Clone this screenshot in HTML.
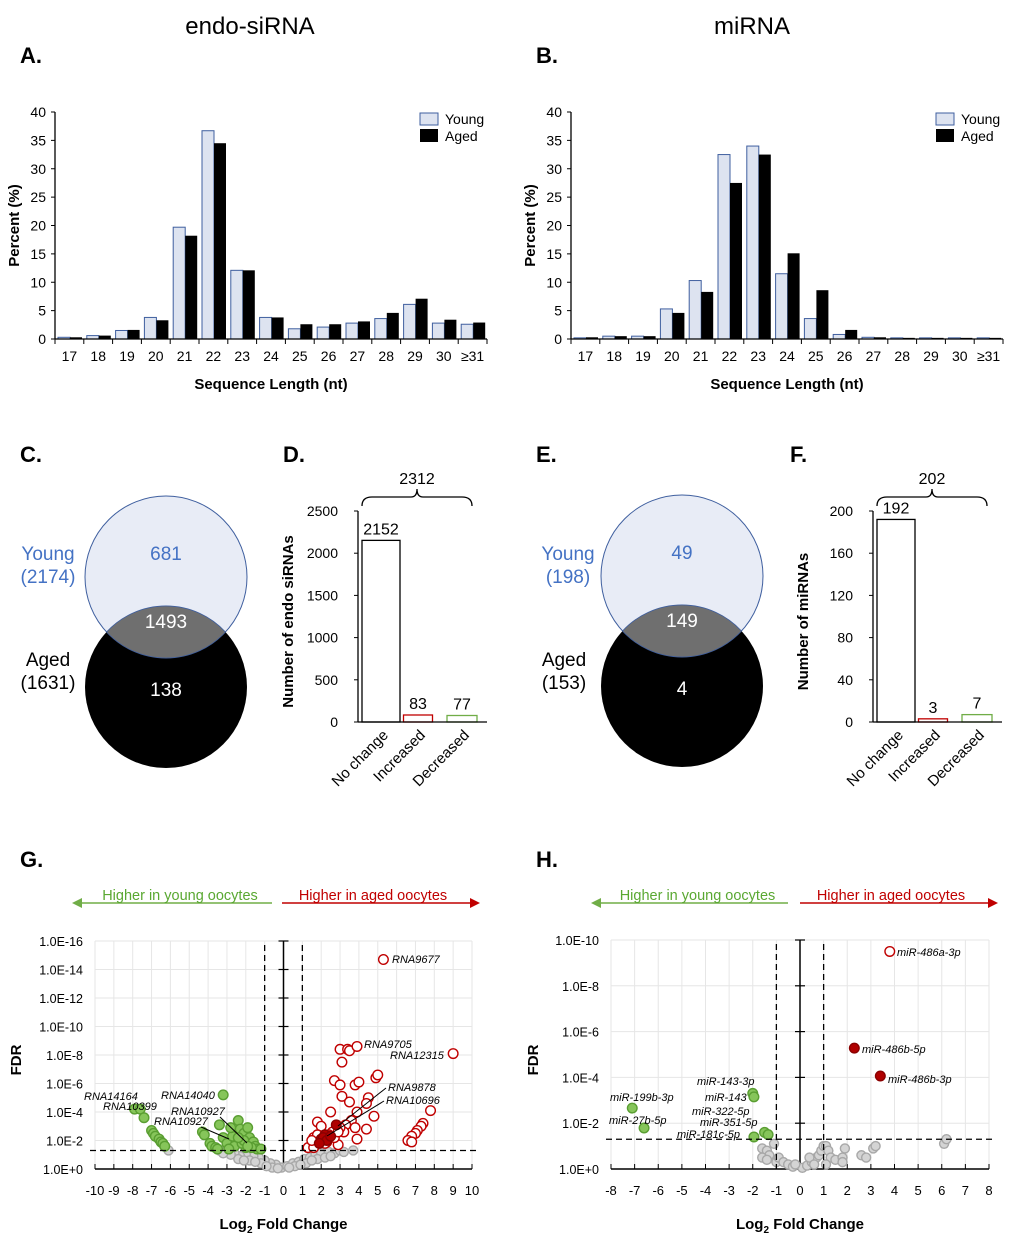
<!DOCTYPE html>
<html><head><meta charset="utf-8"><style>
body{margin:0;background:#fff}
svg{display:block;font-family:"Liberation Sans",Arial,sans-serif}
</style></head><body>
<svg id="s" width="1020" height="1243" viewBox="0 0 1020 1243">
<text x="250" y="34" font-size="24" text-anchor="middle">endo-siRNA</text>
<text x="752" y="34" font-size="24" text-anchor="middle">miRNA</text>
<g font-size="22" font-weight="bold">
<text x="20" y="63">A.</text>
<text x="536" y="63">B.</text>
<text x="20" y="462">C.</text>
<text x="283" y="462">D.</text>
<text x="536" y="462">E.</text>
<text x="790" y="462">F.</text>
<text x="20" y="867">G.</text>
<text x="536" y="867">H.</text>
</g>
<!-- Venn C -->
<g>
<circle cx="166" cy="577" r="81" fill="#e8ecf6" stroke="#3f5f9f" stroke-width="1"/>
<circle cx="166" cy="687" r="81" fill="#000"/>
<path d="M 106.5 632 A 81 81 0 0 1 225.5 632 A 81 81 0 0 1 106.5 632 Z" fill="#6f6f6f" stroke="#3f5f9f" stroke-width="0.8"/>
<text x="166" y="560" font-size="19" fill="#4472c4" text-anchor="middle">681</text>
<text x="166" y="628" font-size="19" fill="#fff" text-anchor="middle">1493</text>
<text x="166" y="696" font-size="19" fill="#fff" text-anchor="middle">138</text>
<text x="48" y="560" font-size="19" fill="#4472c4" text-anchor="middle">Young</text>
<text x="48" y="583" font-size="19" fill="#4472c4" text-anchor="middle">(2174)</text>
<text x="48" y="666" font-size="19" text-anchor="middle">Aged</text>
<text x="48" y="689" font-size="19" text-anchor="middle">(1631)</text>
</g>
<g>
<circle cx="682" cy="576" r="81" fill="#e8ecf6" stroke="#3f5f9f" stroke-width="1"/>
<circle cx="682" cy="686" r="81" fill="#000"/>
<path d="M 622.5 631 A 81 81 0 0 1 741.5 631 A 81 81 0 0 1 622.5 631 Z" fill="#6f6f6f" stroke="#3f5f9f" stroke-width="0.8"/>
<text x="682" y="559" font-size="19" fill="#4472c4" text-anchor="middle">49</text>
<text x="682" y="627" font-size="19" fill="#fff" text-anchor="middle">149</text>
<text x="682" y="695" font-size="19" fill="#fff" text-anchor="middle">4</text>
<text x="568" y="560" font-size="19" fill="#4472c4" text-anchor="middle">Young</text>
<text x="568" y="583" font-size="19" fill="#4472c4" text-anchor="middle">(198)</text>
<text x="564" y="666" font-size="19" text-anchor="middle">Aged</text>
<text x="564" y="689" font-size="19" text-anchor="middle">(153)</text>
</g>
</svg>
<script>
const S=document.getElementById('s');const NS='http://www.w3.org/2000/svg';
function mk(tag,attrs,parent,txt){const e=document.createElementNS(NS,tag);for(const k in attrs)e.setAttribute(k,attrs[k]);if(txt!==undefined)e.textContent=txt;(parent||S).appendChild(e);return e;}

// ---- Panels A/B data ----
const lenCats=['17','18','19','20','21','22','23','24','25','26','27','28','29','30','≥31'];
const sirnaYoung=[0.3,0.6,1.5,3.8,19.7,36.7,12.1,3.8,1.8,2.1,2.8,3.6,6.1,2.8,2.6];
const sirnaAged=[0.3,0.6,1.6,3.3,18.2,34.5,12.1,3.8,2.6,2.6,3.1,4.6,7.1,3.4,2.9];
const mirnaYoung=[0.2,0.5,0.5,5.3,10.3,32.5,34.0,11.5,3.6,0.8,0.3,0.2,0.2,0.2,0.2];
const mirnaAged=[0.3,0.5,0.5,4.6,8.3,27.5,32.5,15.1,8.6,1.6,0.3,0.2,0.2,0.2,0.2];
const pctTicks=[0,5,10,15,20,25,30,35,40];

function lenChart(ox,young,aged,name){
  const g=mk('g',{});
  
  
  const x0=ox,x1=ox+432,y0=339,yTop=112,bw=(x1-x0)/lenCats.length;
  const ys=v=>y0-(v/40)*(y0-yTop);
  young.forEach((v,i)=>{const r=mk('rect',{x:x0+i*bw+3,y:ys(v),width:12,height:y0-ys(v),fill:'#dde3f0',stroke:'#3f5f9f','stroke-width':1},g);
    });
  aged.forEach((v,i)=>{const r=mk('rect',{x:x0+i*bw+15,y:ys(v),width:12,height:y0-ys(v),fill:'#000'},g);
    });
  mk('line',{x1:x0,y1:y0,x2:x1,y2:y0,stroke:'#000','stroke-width':1.3},g);
  mk('line',{x1:x0,y1:y0,x2:x0,y2:yTop,stroke:'#000','stroke-width':1.3},g);
  pctTicks.forEach(t=>{mk('line',{x1:x0-4,y1:ys(t),x2:x0,y2:ys(t),stroke:'#000'},g);
    mk('text',{x:x0-9,y:ys(t)+5,'font-size':14,'text-anchor':'end'},g,t);});
  lenCats.forEach((c,i)=>{mk('line',{x1:x0+i*bw,y1:y0,x2:x0+i*bw,y2:y0+5,stroke:'#000'},g);
    mk('text',{x:x0+(i+0.5)*bw,y:y0+22,'font-size':14,'text-anchor':'middle'},g,c);});
  mk('line',{x1:x1,y1:y0,x2:x1,y2:y0+5,stroke:'#000'},g);
  mk('text',{x:(x0+x1)/2,y:389,'font-size':15,'font-weight':'bold','text-anchor':'middle'},g,'Sequence Length (nt)');
  mk('text',{transform:`translate(${x0-36},${(y0+yTop)/2}) rotate(-90)`,'font-size':15,'font-weight':'bold','text-anchor':'middle'},g,'Percent (%)');
  mk('rect',{x:x1-67,y:113,width:18,height:12,fill:'#dde3f0',stroke:'#3f5f9f'},g);
  mk('rect',{x:x1-67,y:129,width:18,height:13,fill:'#000'},g);
  mk('text',{x:x1-42,y:124,'font-size':14},g,'Young');
  mk('text',{x:x1-42,y:141,'font-size':14},g,'Aged');
}
lenChart(55,sirnaYoung,sirnaAged,'length-chart-endo-sirna');
lenChart(571,mirnaYoung,mirnaAged,'length-chart-mirna');

// ---- Panels D/F ----
const deCats=['No change','Increased','Decreased'];
const sirnaCounts=[2152,83,77];
const mirnaCounts=[192,3,7];
const sirnaTicks=[0,500,1000,1500,2000,2500];
const mirnaTicks=[0,40,80,120,160,200];
const sirnaTotal='2312', mirnaTotal='202';
const deColors=['#000','#c00000','#70ad47'];
function deChart(ox,vals,ticks,total,title,name){
  const g=mk('g',{});
  
  
  const y0=722,yTop=511,max=ticks[ticks.length-1];const ys=v=>y0-(v/max)*(y0-yTop);
  const centers=[ox+23,ox+60,ox+104];const widths=[38,29,30];
  vals.forEach((v,i)=>{const r=mk('rect',{x:centers[i]-widths[i]/2,y:ys(v),width:widths[i],height:y0-ys(v),fill:'#fff',stroke:deColors[i],'stroke-width':1.3},g);
    
    mk('text',{x:centers[i],y:ys(v)-6,'font-size':16,'text-anchor':'middle'},g,v);
    mk('text',{transform:`translate(${centers[i]+8},${y0+14}) rotate(-45)`,'font-size':15,'text-anchor':'end'},g,deCats[i]);});
  mk('line',{x1:ox,y1:y0,x2:ox+129,y2:y0,stroke:'#000','stroke-width':1.3},g);
  mk('line',{x1:ox,y1:y0,x2:ox,y2:yTop,stroke:'#000','stroke-width':1.3},g);
  ticks.forEach(t=>{mk('line',{x1:ox-4,y1:ys(t),x2:ox,y2:ys(t),stroke:'#000'},g);
    mk('text',{x:ox-20,y:ys(t)+5,'font-size':14,'text-anchor':'end'},g,t);});
  mk('text',{transform:`translate(${ox-65},${(y0+yTop)/2+5}) rotate(-90)`,'font-size':15,'font-weight':'bold','text-anchor':'middle'},g,title);
  const a=ox+4,b=ox+114,m=(a+b)/2;
  mk('path',{d:`M${a},506 Q${a},497 ${a+10},497 L${m-6},497 Q${m},497 ${m},489 Q${m},497 ${m+6},497 L${b-10},497 Q${b},497 ${b},506`,fill:'none',stroke:'#000','stroke-width':1.3},g);
  mk('text',{x:m,y:484,'font-size':16,'text-anchor':'middle'},g,total);
}
deChart(358,sirnaCounts,sirnaTicks,sirnaTotal,'Number of endo siRNAs','de-chart-endo-sirna');
deChart(873,mirnaCounts,mirnaTicks,mirnaTotal,'Number of miRNAs','de-chart-mirna');

// ---- Panel G data: [log2FC, -log10 FDR] ----
const gGreen=[[-7.9,4.2],[-7.6,4.2],[-7.4,3.6],[-7.0,2.7],[-6.9,2.5],[-6.8,2.3],[-6.6,2.1],[-6.5,1.9],[-6.4,1.8],[-6.3,1.6],
[-4.3,2.6],[-4.2,2.4],[-3.9,1.8],[-3.8,1.6],[-3.6,1.5],[-3.4,3.1],[-3.2,2.2],[-3.0,1.8],[-3.2,5.2],[-2.4,3.4],[-2.3,2.8],[-2.1,2.5],
[-1.9,2.9],[-1.8,2.2],[-2.5,2.0],[-2.7,2.3],[-2.8,2.9],[-1.6,1.9],[-1.5,1.6],[-1.4,1.4],[-2.0,1.5],[-2.6,1.6],[-1.7,1.5],[-3.5,1.4],
[-2.9,1.4],[-2.2,1.8],[-2.1,2.0],[-1.9,1.6],[-2.4,2.2],[-1.2,1.4]];
const gRedOpen=[[5.3,14.7],[9.0,8.1],[3.0,8.4],[3.4,8.4],[3.5,8.3],[3.9,8.6],[3.1,7.5],[2.7,6.2],[3.0,5.9],[3.8,5.9],[4.0,6.1],[4.9,6.4],
[5.0,6.6],[3.1,5.1],[3.5,4.7],[4.5,5.0],[4.4,4.6],[2.5,4.0],[3.9,4.0],[4.8,3.7],[7.8,4.1],[3.6,3.4],[1.8,3.3],[2.0,3.0],[3.3,3.1],
[3.8,2.9],[4.4,2.8],[7.4,3.2],[7.3,3.0],[7.1,2.7],[7.0,2.5],[6.8,2.3],[6.6,2.0],[6.8,1.9],[3.9,2.1],[3.2,2.6],[2.6,2.6],[1.6,2.2],
[1.8,2.4],[2.3,1.9],[2.9,1.7],[1.3,1.5],[1.6,1.5],[2.4,2.4],[3.0,2.9],[2.2,1.8],[2.7,2.2],[1.5,2.0],[2.9,2.6]];
const gRedFilled=[[2.8,3.1],[2.2,2.4],[2.0,2.1],[2.1,2.2],[2.3,2.0],[1.9,1.8],[2.5,2.3]];
const gGrey=[[-0.1,0.1],[0.2,0.2],[-0.4,0.3],[0.5,0.4],[-0.7,0.4],[0.8,0.5],[-1.0,0.6],[1.1,0.7],[-1.3,0.8],[1.4,0.8],[-1.6,0.9],
[1.7,1.0],[-2.0,1.0],[2.0,1.1],[-2.3,0.9],[2.4,1.2],[-2.6,1.1],[2.7,1.1],[-3.0,1.2],[3.0,1.3],[-3.4,1.3],[3.7,1.3],[-6.1,1.3],
[-1.2,0.4],[1.2,0.4],[-0.6,0.1],[0.6,0.2],[-1.8,0.6],[1.8,0.7],[-2.4,0.7],[2.2,0.8],[-0.3,0.05],[0.3,0.1],[-0.9,0.2],[0.9,0.3],
[-1.5,0.5],[1.5,0.6],[-2.1,0.6],[2.5,0.9],[-2.8,1.0],[-3.2,1.1],[3.2,1.2]];
const gXTicks=[-10,-9,-8,-7,-6,-5,-4,-3,-2,-1,0,1,2,3,4,5,6,7,8,9,10];
const gYTicks=[0,2,4,6,8,10,12,14,16];
const gYLabels=['1.0E+0','1.0E-2','1.0E-4','1.0E-6','1.0E-8','1.0E-10','1.0E-12','1.0E-14','1.0E-16'];
const gLabels=[['RNA9677',392,963],['RNA9705',364,1048],['RNA12315',390,1059],['RNA9878',388,1091],['RNA10696',386,1104],
['RNA14164',84,1100],['RNA10399',103,1110],['RNA14040',161,1099],['RNA10927',171,1115],['RNA10927',154,1125]];

// ---- Panel H data ----
const hGreen=[[-7.1,2.66],[-6.6,1.79],[-2.0,3.3],[-1.95,3.15],[-1.5,1.6],[-1.35,1.5],[-1.95,1.4]];
const hRedOpen=[[3.8,9.5]];
const hRedFilled=[[2.3,5.28],[3.4,4.06]];
const hGrey=[[-1.1,1.1],[-1.6,0.9],[-1.4,0.8],[-1.3,0.6],[-1.6,0.5],[-1.4,0.4],[-1.0,0.3],[-0.9,0.5],[-0.7,0.3],[-0.5,0.2],
[-0.3,0.1],[0.1,0.05],[0.3,0.15],[0.5,0.3],[0.6,0.4],[0.7,0.5],[0.8,0.6],[0.9,0.8],[1.0,1.0],[1.1,1.0],[1.2,0.8],[1.3,0.5],
[1.5,0.4],[1.8,0.5],[1.9,0.9],[1.8,0.3],[2.6,0.6],[2.8,0.5],[3.1,0.9],[3.2,1.0],[6.1,1.1],[6.2,1.3],[1.1,0.2],[0.4,0.5],[0.6,0.2],[-0.2,0.2]];
const hXTicks=[-8,-7,-6,-5,-4,-3,-2,-1,0,1,2,3,4,5,6,7,8];
const hYTicks=[0,2,4,6,8,10];
const hYLabels=['1.0E+0','1.0E-2','1.0E-4','1.0E-6','1.0E-8','1.0E-10'];
const hLabels=[['miR-486a-3p',897,956],['miR-486b-5p',862,1053],['miR-486b-3p',888,1083],['miR-143-3p',697,1085],['miR-143',705,1101],
['miR-199b-3p',610,1101],['miR-322-5p',692,1115],['miR-27b-5p',609,1124],['miR-351-5p',700,1126],['miR-181c-5p',677,1138]];

function volcano(o){
  const g=mk('g',{});
  
  
  const xs=v=>o.x0+(v-o.xmin)/(o.xmax-o.xmin)*(o.x1-o.x0);
  const ys=v=>o.y0-v/o.ymax*(o.y0-o.yTop);
  o.xt.forEach(t=>mk('line',{x1:xs(t),y1:o.yTop,x2:xs(t),y2:o.y0,stroke:'#e6e6e6'},g));
  o.yt.forEach(t=>mk('line',{x1:o.x0,y1:ys(t),x2:o.x1,y2:ys(t),stroke:'#e6e6e6'},g));
  o.yt.forEach((t,i)=>mk('text',{x:o.x0-12,y:ys(t)+5,'font-size':12.5,'text-anchor':'end'},g,o.yl[i]));
  o.xt.forEach(t=>{mk('line',{x1:xs(t),y1:o.y0,x2:xs(t),y2:o.y0-5,stroke:'#000'},g);
    mk('text',{x:xs(t),y:o.y0+26,'font-size':13,'text-anchor':'middle'},g,t);});
  mk('line',{x1:o.x0,y1:o.y0,x2:o.x1,y2:o.y0,stroke:'#000','stroke-width':1.5},g);
  mk('line',{x1:xs(0),y1:o.y0,x2:xs(0),y2:o.yTop,stroke:'#000','stroke-width':1.5},g);
  o.yt.forEach(t=>mk('line',{x1:xs(0)-5,y1:ys(t),x2:xs(0)+5,y2:ys(t),stroke:'#000','stroke-width':1.2},g));
  const pt=(arr,fill,stroke,r,nm)=>arr.forEach(p=>{const c=mk('circle',{cx:xs(p[0]),cy:ys(p[1]),r:r,fill:fill,stroke:stroke,'stroke-width':1.4},g);
    });
  pt(o.grey,'#d4d4d4','#a8a8a8',4.5,'point-not-significant');
  pt(o.green,'#86c55a','#5a9e32',4.8,'point-higher-young');
  pt(o.redOpen,'#fff','#c00000',4.8,'point-higher-aged');
  pt(o.redFilled,'#b00000','#8a0000',4.8,'point-higher-aged-filled');
  mk('line',{x1:xs(-1),y1:o.yTop+4,x2:xs(-1),y2:o.y0,stroke:'#000','stroke-dasharray':'6,4','stroke-width':1.3},g);
  mk('line',{x1:xs(1),y1:o.yTop+4,x2:xs(1),y2:o.y0,stroke:'#000','stroke-dasharray':'6,4','stroke-width':1.3},g);
  mk('line',{x1:o.x0-5,y1:ys(1.3),x2:o.x1+5,y2:ys(1.3),stroke:'#000','stroke-dasharray':'6,4','stroke-width':1.3},g);
  o.labels.forEach(l=>mk('text',{x:l[1],y:l[2],'font-size':11,'font-style':'italic'},g,l[0]));
  (o.leaders||[]).forEach(l=>mk('line',{x1:l[0],y1:l[1],x2:l[2],y2:l[3],stroke:'#000','stroke-width':1},g));
  mk('text',{x:(o.x0+o.x1)/2,y:1229,'font-size':15,'font-weight':'bold','text-anchor':'middle'},g).innerHTML='Log<tspan font-size="10" dy="4">2</tspan><tspan dy="-4"> Fold Change</tspan>';
  mk('text',{transform:`translate(${o.axTitleX},1060) rotate(-90)`,'font-size':15,'font-weight':'bold','text-anchor':'middle'},g,'FDR');
  // direction arrows
  const ax=o.arrowL, ay=903;
  mk('line',{x1:ax[0]+8,y1:ay,x2:ax[1],y2:ay,stroke:'#70ad47','stroke-width':1.5},g);
  mk('path',{d:`M${ax[0]},${ay} l10,-5 l0,10 z`,fill:'#70ad47'},g);
  mk('text',{x:(ax[0]+ax[1])/2+8,y:ay-3,'font-size':14.5,fill:'#5aa832','text-anchor':'middle'},g,'Higher in young oocytes');
  const bx=o.arrowR;
  mk('line',{x1:bx[0],y1:ay,x2:bx[1]-8,y2:ay,stroke:'#c00000','stroke-width':1.5},g);
  mk('path',{d:`M${bx[1]},${ay} l-10,-5 l0,10 z`,fill:'#c00000'},g);
  mk('text',{x:(bx[0]+bx[1])/2-8,y:ay-3,'font-size':14.5,fill:'#c00000','text-anchor':'middle'},g,'Higher in aged oocytes');
}
volcano({name:'volcano-endo-sirna',x0:95,x1:472,xmin:-10,xmax:10,y0:1169,yTop:941,ymax:16,xt:gXTicks,yt:gYTicks,yl:gYLabels,
  green:gGreen,redOpen:gRedOpen,redFilled:gRedFilled,grey:gGrey,labels:gLabels,axTitleX:21,arrowL:[72,272],arrowR:[282,480],
  leaders:[[386,1088,338,1126],[384,1101,327,1136],[220,1117,247,1143],[201,1127,229,1139]]});
volcano({name:'volcano-mirna',x0:611,x1:989,xmin:-8,xmax:8,y0:1169,yTop:940,ymax:10,xt:hXTicks,yt:hYTicks,yl:hYLabels,
  green:hGreen,redOpen:hRedOpen,redFilled:hRedFilled,grey:hGrey,labels:hLabels,axTitleX:538,arrowL:[591,788],arrowR:[800,998]});
</script>
</body></html>
